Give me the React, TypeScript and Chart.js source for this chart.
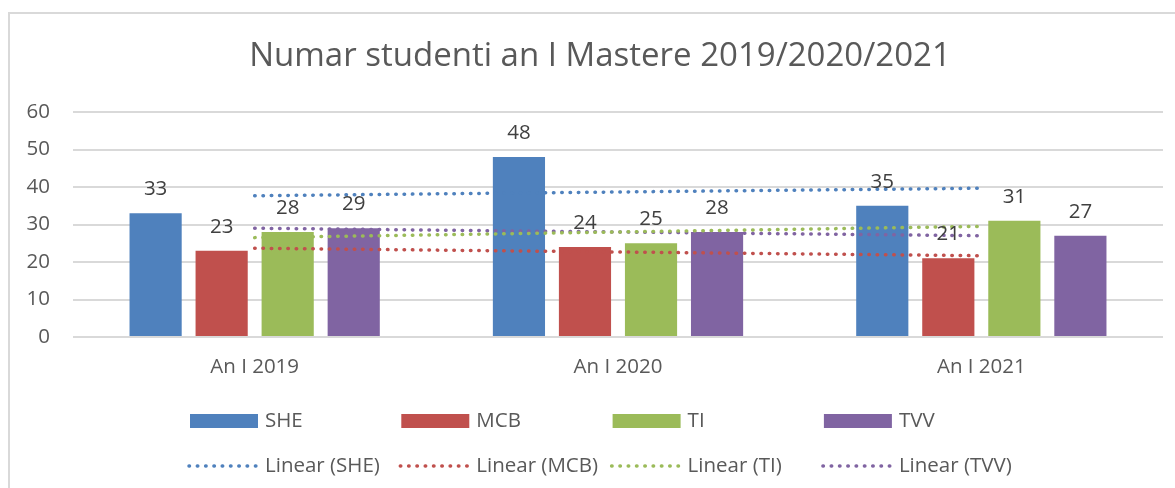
import React, { useEffect, useRef } from "react";
import { Chart, registerables } from "chart.js";

Chart.register(...registerables);

const categories = ["An I 2019", "An I 2020", "An I 2021"];
const seriesNames = ["SHE", "MCB", "TI", "TVV"];
const sheValues = [33, 48, 35];
const mcbValues = [23, 24, 21];
const tiValues = [28, 25, 31];
const tvvValues = [29, 28, 27];
// linear trendline values (at each category centre)
const sheTrend = [37.67, 38.67, 39.67];
const mcbTrend = [23.67, 22.67, 21.67];
const tiTrend = [26.5, 28, 29.5];
const tvvTrend = [29, 28, 27];
const yTicks = [0, 10, 20, 30, 40, 50, 60];
const title = "Numar studenti an I Mastere 2019/2020/2021";

const colors = ["#4F81BD", "#C0504D", "#9BBB59", "#8064A2"];
const FONT = "'Open Sans', 'DejaVu Sans', sans-serif";
const TEXT = "#595959";

const titlePlugin = {
  id: "customTitle",
  afterDraw(chart: any) {
    const ctx = chart.ctx;
    ctx.save();
    ctx.font = `33px ${FONT}`;
    ctx.fillStyle = TEXT;
    ctx.textAlign = "center";
    ctx.textBaseline = "middle";
    ctx.fillText(title, 600, 57);
    ctx.restore();
  },
};

const dataLabelPlugin = {
  id: "dataLabels",
  afterDatasetsDraw(chart: any) {
    const ctx = chart.ctx;
    ctx.save();
    ctx.font = `20.5px ${FONT}`;
    ctx.fillStyle = "#404040";
    ctx.textAlign = "center";
    ctx.textBaseline = "alphabetic";
    chart.data.datasets.forEach((ds: any, i: number) => {
      if (ds.type !== "bar") return;
      const meta = chart.getDatasetMeta(i);
      meta.data.forEach((el: any, j: number) => {
        ctx.fillText(String(ds.data[j]), el.x, el.y - 18);
      });
    });
    ctx.restore();
  },
};

const legendPlugin = {
  id: "customLegend",
  afterDraw(chart: any) {
    const ctx = chart.ctx;
    ctx.save();
    ctx.font = `20.5px ${FONT}`;
    ctx.textBaseline = "middle";
    ctx.textAlign = "left";
    const colStart = 190;
    const colStep = 211.3;
    const row1 = 421;
    const row2 = 466;
    seriesNames.forEach((name, i) => {
      const x = colStart + i * colStep;
      ctx.fillStyle = colors[i];
      ctx.fillRect(x, row1 - 7, 68, 14);
      ctx.fillStyle = TEXT;
      ctx.fillText(name, x + 75, row1);
      ctx.strokeStyle = colors[i];
      ctx.lineWidth = 3.5;
      ctx.lineCap = "round";
      ctx.setLineDash([0.5, 7.8]);
      ctx.beginPath();
      ctx.moveTo(x - 1, row2);
      ctx.lineTo(x + 68, row2);
      ctx.stroke();
      ctx.setLineDash([]);
      ctx.fillText(`Linear (${name})`, x + 75, row2);
    });
    ctx.restore();
  },
};

export default function App() {
  const canvasRef = useRef<HTMLCanvasElement>(null);

  useEffect(() => {
    if (!canvasRef.current) return;
    const barValues = [sheValues, mcbValues, tiValues, tvvValues];
    const trendValues = [sheTrend, mcbTrend, tiTrend, tvvTrend];
    const datasets: any[] = [];
    seriesNames.forEach((name, i) => {
      datasets.push({
        type: "bar",
        label: name,
        data: barValues[i],
        backgroundColor: colors[i],
        borderWidth: 0,
        order: 1,
        categoryPercentage: 0.727,
        barPercentage: 0.79,
      });
    });
    seriesNames.forEach((name, i) => {
      datasets.push({
        type: "line",
        label: `Linear (${name})`,
        data: trendValues[i],
        borderColor: colors[i],
        backgroundColor: colors[i],
        borderWidth: 3.5,
        borderDash: [0.5, 7.8],
        borderCapStyle: "round",
        pointRadius: 0,
        fill: false,
        tension: 0,
        order: 0,
      });
    });

    const chart = new Chart(canvasRef.current, {
      type: "bar",
      data: { labels: categories, datasets },
      options: {
        responsive: false,
        animation: false,
        devicePixelRatio: 1,
        layout: { padding: { left: 0, right: 12, top: 112, bottom: 0 } },
        plugins: {
          legend: { display: false },
          title: { display: false },
          tooltip: { enabled: false },
        },
        scales: {
          x: {
            grid: { display: false, drawTicks: false },
            border: { display: false },
            ticks: {
              color: TEXT,
              font: { family: FONT, size: 20.5 },
              padding: 18,
            },
            afterFit: (scale: any) => {
              scale.height = 151;
            },
          },
          y: {
            min: 0,
            max: 60,
            afterBuildTicks: (scale: any) => {
              scale.ticks = yTicks.map((v) => ({ value: v }));
            },
            grid: { color: "#D9D9D9", lineWidth: 2, drawTicks: false },
            border: { display: false },
            ticks: {
              color: TEXT,
              font: { family: FONT, size: 20.5 },
              padding: 23,
            },
            afterFit: (scale: any) => {
              scale.width = 73;
            },
          },
        },
      },
      plugins: [titlePlugin, dataLabelPlugin, legendPlugin],
    } as any);
    return () => chart.destroy();
  }, []);

  return (
    <div
      style={{
        position: "fixed",
        left: 0,
        top: 0,
        width: 1175,
        height: 488,
        overflow: "hidden",
        background: "#ffffff",
      }}
    >
      <div
        style={{
          position: "absolute",
          left: 8,
          top: 12,
          width: 1300,
          height: 600,
          border: "2px solid #D9D9D9",
          boxSizing: "border-box",
        }}
      />
      <canvas
        ref={canvasRef}
        width={1175}
        height={488}
        style={{ position: "absolute", left: 0, top: 0 }}
      />
    </div>
  );
}
